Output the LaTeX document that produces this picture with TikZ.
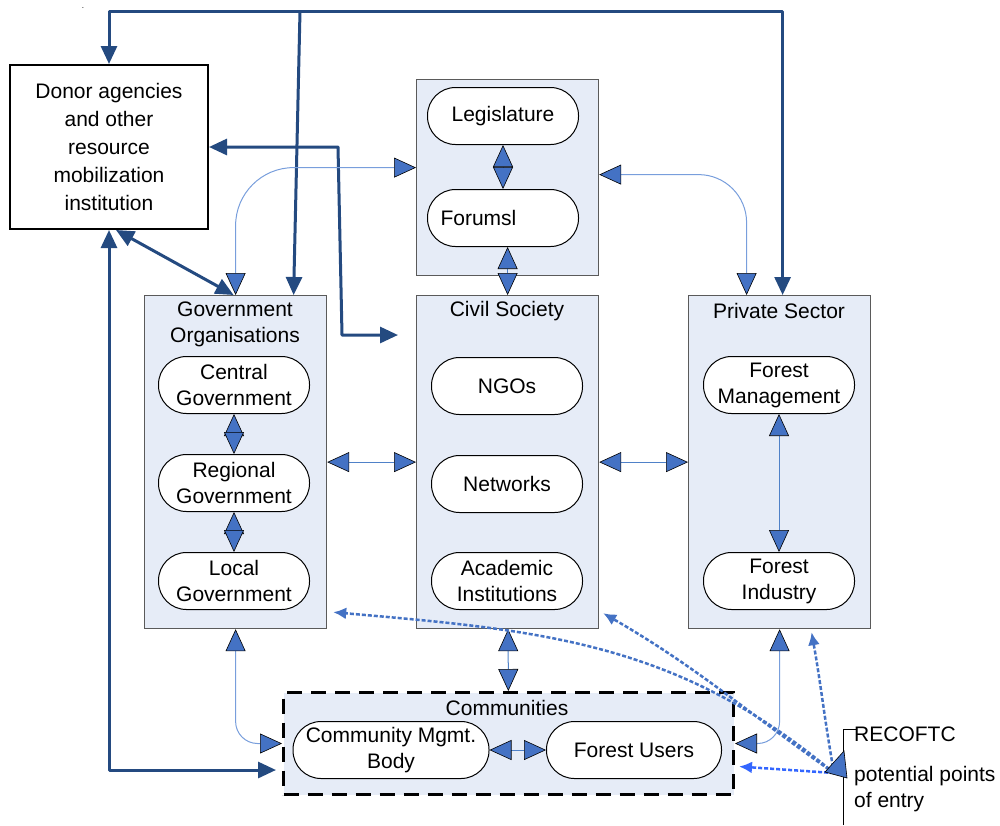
\documentclass[tikz,border=0pt]{standalone}
\usepackage{fontspec}
\setmainfont{Liberation Sans}
\usetikzlibrary{positioning,arrows.meta}
\definecolor{darkblue}{RGB}{36,74,128}
\definecolor{tipblue}{RGB}{68,114,196}
\definecolor{lineblue}{RGB}{79,129,200}
\definecolor{softblue}{RGB}{120,158,220}
\definecolor{brightblue}{RGB}{51,102,255}
\definecolor{panelfill}{RGB}{230,236,247}
\definecolor{panelline}{RGB}{90,90,90}

\begin{document}
\begin{tikzpicture}[x=1pt,y=-1pt,
    font=\fontsize{21}{26}\selectfont,
    bigtip/.tip={Triangle[length=22pt,width=20pt,color=black,fill=tipblue,line width=0.6pt]},
    darktip/.tip={Triangle[length=18pt,width=16pt]},
    dottip/.tip={Latex[length=13pt,width=12pt]},
    panel/.style={draw=panelline,fill=panelfill,line width=1.2pt,anchor=north west,minimum width=182pt,inner sep=0pt},
    pill/.style={draw,fill=white,line width=1pt,rounded corners=28pt,minimum width=151pt,minimum height=57pt,align=center,inner sep=0pt},
    heavy/.style={draw=darkblue,line width=3pt,line join=round},
    soft/.style={draw=softblue,line width=1pt},
    twoway/.style={draw=lineblue,line width=1pt,bigtip-bigtip},
    entryline/.style={draw=tipblue,line width=2.5pt,dash pattern=on 4pt off 2pt,-dottip}]
    \useasboundingbox (0,0) rectangle (1000,825);

    % panels
    \node[panel,minimum height=196pt] (top) at (416,79) {};
    \node[panel,minimum height=333pt] (gov) at (144,295) {};
    \node[panel,minimum height=333pt] (civil) at (416,295) {};
    \node[panel,minimum height=333pt] (private) at (688,295) {};
    \node[panel,draw=black,line width=3pt,dash pattern=on 15pt off 9pt,minimum width=450pt,minimum height=102pt] (comm) at (282,691) {};

    \node[align=center] (govtitle) at (235,324) {Government\\Organisations};
    \node (civiltitle) at (507,311) {Civil Society};
    \node (privtitle) at (779,311) {Private Sector};
    \node (commtitle) at (507,708) {Communities};

    \node[draw,line width=2pt,fill=white,minimum width=198pt,minimum height=164pt,align=center,
        font=\fontsize{21}{28}\selectfont] (donor) at (109,147)
        {Donor agencies\\and other\\resource\\mobilization\\institution};
    \node[inner sep=0pt,font=\fontsize{8}{8}\selectfont] (dot) at (83,8) {.};

    % inner bodies
    \node[pill] (legis) at (503,116) {Legislature};
    \node[pill,text width=125pt,align=left] (forums) at (503,218) {Forumsl};
    \foreach \nm/\y/\txt in {central/385/{Central\\Government}, regional/483/{Regional\\Government}, local/581/{Local\\Government}}
        \node[pill] (\nm) at (234,\y) {\txt};
    \foreach \nm/\y/\txt in {ngos/386/{NGOs}, networks/484/{Networks}, academic/581/{Academic\\Institutions}}
        \node[pill] (\nm) at (507,\y) {\txt};
    \foreach \nm/\y/\txt in {fm/385/{Forest\\Management}, fi/581/{Forest\\Industry}}
        \node[pill] (\nm) at (779,\y) {\txt};
    \node[pill,minimum width=196pt] (cmb) at (391,750) {Community Mgmt.\\Body};
    \node[pill,minimum width=175pt] (users) at (634,750) {Forest Users};

    % funding lines
    \coordinate (topbar) at (300,11);
    \coordinate (fork) at (338,147);
    \coordinate (knee) at (342,335);
    \coordinate (stub) at (398,335);
    \coordinate (commin) at (276,770);
    \draw[heavy,darktip-darktip] (donor.north) |- (topbar) -| ([xshift=3pt]private.north);
    \draw[heavy,-darktip] (topbar) -- ([xshift=58pt]gov.north);
    \draw[heavy,darktip-darktip] (donor.east) -- (fork) -- (knee) -- (stub);
    \draw[heavy,darktip-darktip] ([xshift=7pt]donor.south) -- ([xshift=-2pt]gov.north);
    \draw[heavy,darktip-darktip] (donor.south) |- (commin);

    % links
    \draw[soft,bigtip-bigtip,rounded corners=58pt] (gov.north) |- ([yshift=10pt]top.west);
    \draw[soft,bigtip-bigtip,rounded corners=48pt] ([yshift=3pt]top.east) -| ([xshift=-33pt]private.north);
    \draw[soft,bigtip-bigtip,rounded corners=22pt] (gov.south) |- (comm.west);
    \draw[soft,bigtip-bigtip,rounded corners=22pt] (private.south) |- (comm.east);
    \draw[twoway] (legis) -- (forums);
    \draw[twoway] (forums.south -| civil.north) -- (civil.north);
    \draw[twoway] (central) -- (regional);
    \draw[twoway] (regional) -- (local);
    \draw[twoway] (fm) -- (fi);
    \draw[twoway] (gov) -- (civil);
    \draw[twoway] (civil) -- (private);
    \draw[twoway] (civil) -- (comm);
    \draw[twoway] (cmb) -- (users);

    % entry points
    \coordinate (entry) at (834,773);
    \draw[entryline] (entry) to[out=140,in=-5] ([xshift=6pt,yshift=17pt]gov.south east);
    \draw[entryline] (entry) to[out=145,in=-30] ([xshift=4pt,yshift=16pt]civil.south east);
    \draw[entryline] (entry) to[out=100,in=-80] ([xshift=32pt,yshift=-3pt]private.south);
    \draw[entryline,draw=brightblue] (entry) -- ([xshift=4pt,yshift=-23pt]comm.east);
    \draw[line width=0.8pt] (843,825) -- (843,729) -- (857,729);
    \filldraw[fill=tipblue,draw=black,line width=0.6pt] (844,751) -- (825,772) -- (847,778) -- cycle;
    \node[anchor=west,inner sep=0pt] (recoftc) at (854,734) {RECOFTC};
    \node[anchor=north west,align=left,inner sep=0pt] (entrytxt) at (854,766) {potential points\\of entry};
\end{tikzpicture}
\end{document}
